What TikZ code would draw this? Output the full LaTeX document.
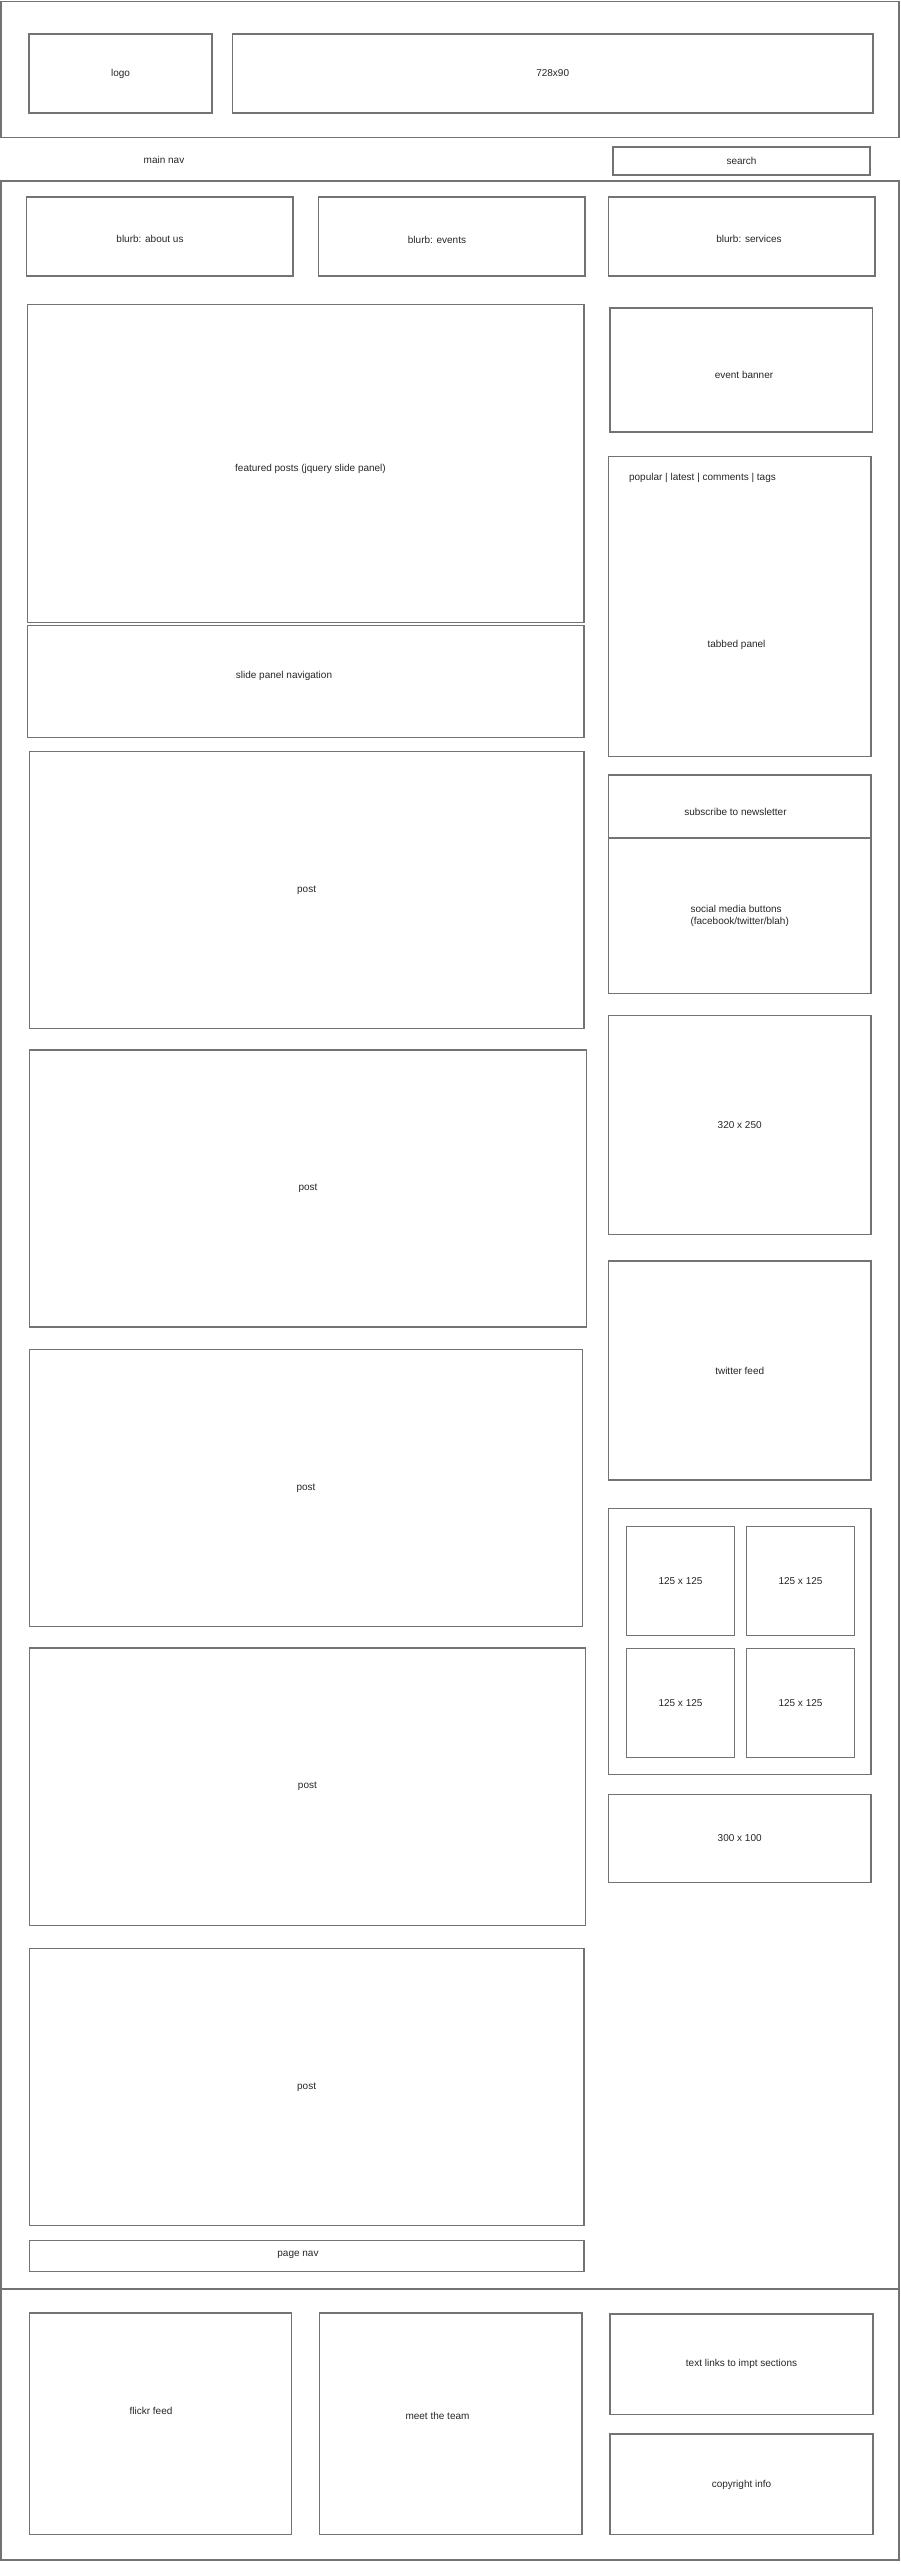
\documentclass[tikz,border=0pt]{standalone}
\usepackage{fontspec}
\setmainfont{Liberation Sans}
\usepackage{tikz}

\begin{document}
\begin{tikzpicture}[x=1pt,y=-1pt]
        \useasboundingbox (0,0) rectangle (900,2564);
        \begin{scope}[every node/.style={draw=black!55, line width=1.2pt, rectangle, inner sep=0, text=black!85, font=\fontsize{10}{12}\selectfont}]
                % outer frames
                \node[minimum width=898, minimum height=135.5] (Head) at (450,69.5) {};
                \node[minimum width=898, minimum height=2108] (Main) at (450,1235) {};
                \node[minimum width=898, minimum height=271] (Foot) at (450,2424.5) {};

                % header
                \node[minimum width=183, minimum height=79] (Logo) at (120.5,73.5) {logo};
                \node[minimum width=640.5, minimum height=79] (Banner) at (552.7,73.5) {728x90};
                \node[draw=none] (MainNav) at (164,160) {main nav};
                \node[minimum width=257, minimum height=28] (Search) at (741.5,161) {search};

                % blurbs
                \node[minimum width=266.5, minimum height=79] (About) at (159.7,236.5) {};
                \node[minimum width=266.5, minimum height=79] (Events) at (451.7,236.5) {};
                \node[minimum width=266.5, minimum height=79] (Services) at (741.7,236.5) {};
                \node[draw=none] (AboutL) at (150,239) {blurb: about us};
                \node[draw=none] (EventsL) at (437,239.5) {blurb: events};
                \node[draw=none] (ServicesL) at (749,238.5) {blurb: services};

                % main column
                \node[minimum width=556.5, minimum height=318.4] (Featured) at (305.7,463.5) {};
                \node[draw=none] (FeaturedL) at (310.5,469) {featured posts (jquery slide panel)};
                \node[minimum width=556.5, minimum height=111.6] (SlideNav) at (305.7,681.5) {};
                \node[draw=none] (SlideNavL) at (284,676) {slide panel navigation};
                \node[minimum width=554.7, minimum height=277.1] (P1) at (306.6,890) {post};
                \node[minimum width=557.4, minimum height=277] (P2) at (308,1188.5) {post};
                \node[minimum width=553.4, minimum height=277.1] (P3) at (306,1488) {post};
                \node[minimum width=556.2, minimum height=277.5] (P4) at (307.4,1786.7) {post};
                \node[minimum width=554.7, minimum height=277.2] (P5) at (306.6,2086.9) {post};
                \node[minimum width=554.7, minimum height=31.2] (PageNav) at (306.6,2255.9) {};
                \node[draw=none] (PageNavL) at (298,2255) {page nav};

                % sidebar
                \node[minimum width=262.6, minimum height=124] (EventBan) at (741.3,370) {};
                \node[draw=none] (EventBanL) at (744,375) {event banner};
                \node[minimum width=262.5, minimum height=300] (Tabs) at (739.7,606.7) {};
                \node[draw=none, anchor=west] (TabRow) at (628.5,478) {popular | latest | comments | tags};
                \node[draw=none] (TabsL) at (736.5,645) {tabbed panel};
                \node[minimum width=262.5, minimum height=63] (Subscribe) at (739.7,806.5) {};
                \node[draw=none] (SubscribeL) at (735.5,812) {subscribe to newsletter};
                \node[minimum width=262.5, minimum height=155.7, align=left] (Social) at (739.7,915.8) {social media buttons\\(facebook/twitter/blah)};
                \node[minimum width=262.5, minimum height=219.3] (Ad320) at (739.7,1125.1) {320 x 250};
                \node[minimum width=262.5, minimum height=219] (Twitter) at (739.7,1370.5) {twitter feed};
                \node[minimum width=262.5, minimum height=266] (Ads) at (739.7,1641.7) {};
                \node[minimum width=108.5, minimum height=109.1] (SqA) at (680.5,1581.2) {125 x 125};
                \node[minimum width=108.5, minimum height=109.1] (SqB) at (800.5,1581.2) {125 x 125};
                \node[minimum width=108.5, minimum height=109.5] (SqC) at (680.5,1703.1) {125 x 125};
                \node[minimum width=108.5, minimum height=109.5] (SqD) at (800.5,1703.1) {125 x 125};
                \node[minimum width=262.5, minimum height=87.6] (Ad300) at (739.7,1838.4) {300 x 100};

                % footer
                \node[minimum width=262.3, minimum height=221.8] (Flickr) at (160.4,2423.9) {};
                \node[draw=none] (FlickrL) at (151,2411) {flickr feed};
                \node[minimum width=262.3, minimum height=221.8] (Team) at (450.8,2423.9) {};
                \node[draw=none] (TeamL) at (437.5,2416) {meet the team};
                \node[minimum width=263, minimum height=100.4] (Links) at (741.5,2364.2) {text links to impt sections};
                \node[minimum width=263, minimum height=100.8] (Copy) at (741.5,2484.4) {copyright info};
        \end{scope}
\end{tikzpicture}
\end{document}
